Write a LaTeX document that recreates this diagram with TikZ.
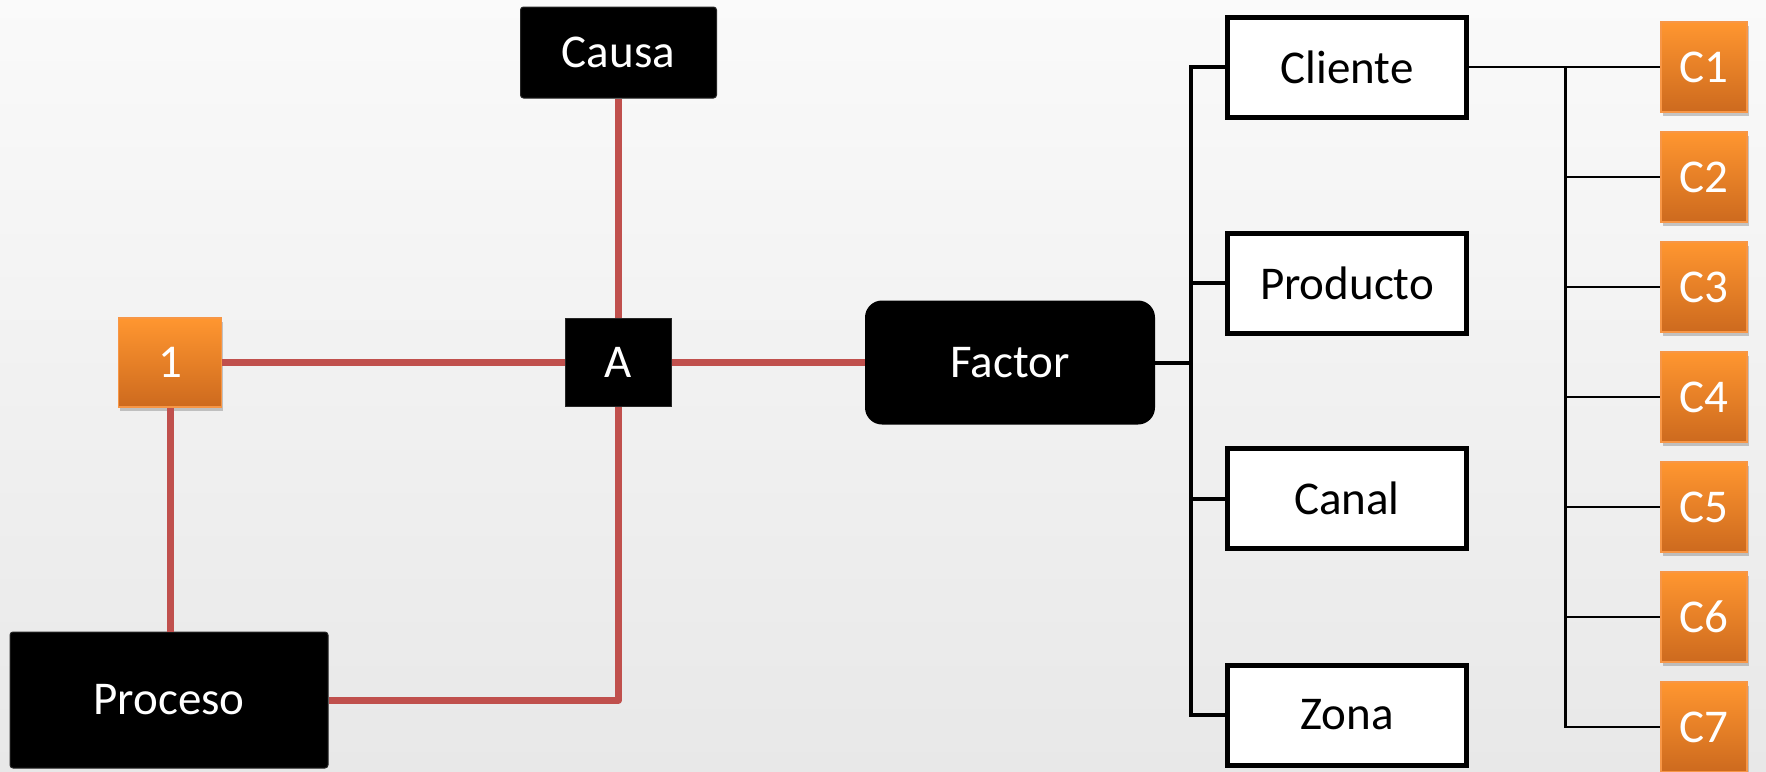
\documentclass[tikz,border=0pt]{standalone}
\usepackage{fontspec}
\setmainfont{Carlito}
\usetikzlibrary{shadows}
\definecolor{redline}{HTML}{C0504D}
\definecolor{orTop}{HTML}{FF9630}
\definecolor{orBot}{HTML}{CD6A1E}
\definecolor{orEdge}{HTML}{F79646}
\begin{document}
\begin{tikzpicture}[x=1pt,y=-1pt,
  lbl/.style={font=\fontsize{47}{56}\selectfont, inner sep=0pt},
  blackbox/.style={lbl, fill=black, text=white, draw=black!85, line width=1pt},
  whitebox/.style={lbl, fill=white, draw=black, line width=5pt, minimum width=239pt, minimum height=100pt},
  orbox/.style={lbl, text=white, top color=orTop, bottom color=orBot, draw=orEdge, line width=1.5pt,
    minimum width=86pt, minimum height=90pt,
    drop shadow={shadow xshift=1.5pt, shadow yshift=-4pt, opacity=0.35, fill=black!60}},
  redc/.style={draw=redline, line width=7pt},
  blk/.style={draw=black, line width=4pt},
  thinc/.style={draw=black, line width=2.5pt}]
\useasboundingbox (0,0) rectangle (1766,771);
\fill[top color=white!98!black, bottom color=white!91!black] (0,0) rectangle (1766,771);

% left part
\node[blackbox, minimum width=196pt, minimum height=91pt, rounded corners=3pt] (causa) at (618.5,52.5) {Causa};
\node[blackbox, minimum width=106pt, minimum height=88pt] (A) at (618.5,362.5) {A};
\node[orbox, minimum width=103pt, minimum height=89pt] (one) at (170,362.5) {1};
\node[blackbox, minimum width=318pt, minimum height=136pt, rounded corners=3pt] (proceso) at (169,700) {Proceso};
\node[lbl, fill=black, text=white, minimum width=290pt, minimum height=124pt, rounded corners=17pt] (factor) at (1010,362.5) {Factor};

\draw[redc] (one.east) -- (A.west);
\draw[redc] (A.east) -- (factor.west);
\draw[redc] (causa.south) -- (A.north);
\draw[redc, line join=round] (A.south) |- (proceso.east);
\draw[redc] (one.south) -- (one.south |- proceso.north);

% middle column
\node[whitebox] (cliente) at (1347,67) {Cliente};
\node[whitebox] (producto) at (1347,283) {Producto};
\node[whitebox] (canal) at (1347,498.5) {Canal};
\node[whitebox] (zona) at (1347,715) {Zona};

\coordinate (bk) at (1190.5,362.5);
\draw[blk] (factor.east) -- (bk);
\draw[blk] (cliente.west) -- (cliente.west -| bk) -- (zona.west -| bk) -- (zona.west);
\draw[blk] (producto.west) -- (producto.west -| bk);
\draw[blk] (canal.west) -- (canal.west -| bk);

% right column
\node[orbox] (c1) at (1704,67) {C1};
\node[orbox] (c2) at (1704,177) {C2};
\node[orbox] (c3) at (1704,287) {C3};
\node[orbox] (c4) at (1704,397) {C4};
\node[orbox] (c5) at (1704,507) {C5};
\node[orbox] (c6) at (1704,617) {C6};
\node[orbox] (c7) at (1704,727) {C7};

\coordinate (tk) at (1565.5,0);
\draw[thinc] (cliente.east) -- (c1.west);
\draw[thinc] (c1.west -| tk) -- (c7.west -| tk) -- (c7.west);
\foreach \n in {c2,c3,c4,c5,c6} {\draw[thinc] (\n.west -| tk) -- (\n.west);}
\end{tikzpicture}
\end{document}
